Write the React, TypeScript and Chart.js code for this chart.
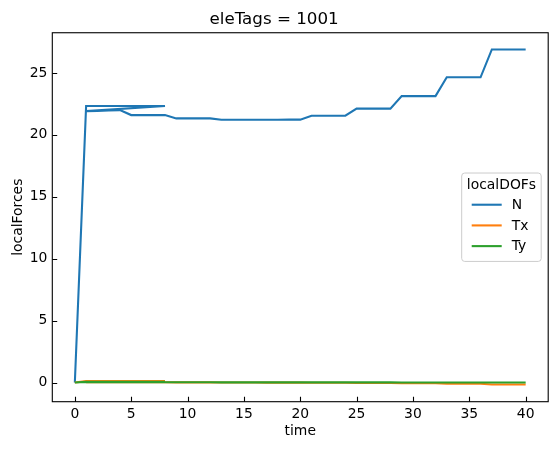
import React, { useEffect, useRef } from 'react';
import { Chart, registerables, Plugin } from 'chart.js';

Chart.register(...registerables);

// time column: first run 0..8, then restarts at 1 and goes to 40
const time = [
  0, 1, 2, 3, 4, 5, 6, 7, 8,
  1, 2, 3, 4, 5, 6, 7, 8, 9, 10,
  11, 12, 13, 14, 15, 16, 17, 18, 19, 20,
  21, 22, 23, 24, 25, 26, 27, 28, 29, 30,
  31, 32, 33, 34, 35, 36, 37, 38, 39, 40,
];

const nForce = [
  0, 22.33, 22.33, 22.33, 22.33, 22.33, 22.33, 22.33, 22.33,
  21.92, 21.94, 21.97, 22.0, 21.6, 21.6, 21.6, 21.6, 21.33, 21.33,
  21.33, 21.33, 21.22, 21.22, 21.22, 21.22, 21.22, 21.22, 21.23, 21.23,
  21.55, 21.55, 21.55, 21.55, 22.12, 22.12, 22.12, 22.12, 23.13, 23.13,
  23.13, 23.13, 24.65, 24.65, 24.65, 24.65, 26.9, 26.9, 26.9, 26.9,
];

const txForce = [
  0, 0.11, 0.11, 0.11, 0.11, 0.11, 0.11, 0.11, 0.11,
  0.03, 0.03, 0.03, 0.03, 0.02, 0.02, 0.02, 0.02, 0.01, 0.01,
  0.01, 0.01, 0.0, 0.0, 0.0, 0.0, -0.01, -0.01, -0.01, -0.01,
  -0.02, -0.02, -0.02, -0.02, -0.04, -0.04, -0.04, -0.04, -0.06, -0.06,
  -0.06, -0.06, -0.1, -0.1, -0.1, -0.1, -0.16, -0.16, -0.16, -0.16,
];

const tyForce = [
  0, 0.05, 0.05, 0.05, 0.05, 0.05, 0.05, 0.05, 0.05,
  0.03, 0.03, 0.03, 0.03, 0.02, 0.02, 0.02, 0.02, 0.02, 0.02,
  0.02, 0.02, 0.01, 0.01, 0.01, 0.01, 0.01, 0.01, 0.01, 0.01,
  0.01, 0.01, 0.01, 0.01, 0.01, 0.01, 0.01, 0.01, 0.0, 0.0,
  0.0, 0.0, 0.0, 0.0, 0.0, 0.0, 0.0, 0.0, 0.0, 0.0,
];

const seriesNames = ['N', 'Tx', 'Ty'];
const seriesColors = ['#1f77b4', '#ff7f0e', '#2ca02c'];
const xTicks = [0, 5, 10, 15, 20, 25, 30, 35, 40];
const yTicks = [0, 5, 10, 15, 20, 25];

const FONT = 'DejaVu Sans';

// matplotlib style: full black frame + inward ticks
const framePlugin: Plugin = {
  id: 'frame',
  afterDraw(chart) {
    const { ctx, chartArea: a, scales } = chart;
    const len = 4.9;
    ctx.save();
    ctx.strokeStyle = '#000';
    ctx.lineWidth = 1.1;
    ctx.beginPath();
    scales.x.ticks.forEach((t) => {
      const px = Math.round(scales.x.getPixelForValue(t.value)) + 0.5;
      ctx.moveTo(px, a.bottom);
      ctx.lineTo(px, a.bottom - len);
    });
    scales.y.ticks.forEach((t) => {
      const py = Math.round(scales.y.getPixelForValue(t.value)) + 0.5;
      ctx.moveTo(a.left, py);
      ctx.lineTo(a.left + len, py);
    });
    ctx.stroke();
    ctx.strokeRect(a.left, a.top, a.right - a.left, a.bottom - a.top);
    ctx.restore();
  },
};

// legend box inside the axes, centre right, with a title
const legendPlugin: Plugin = {
  id: 'innerLegend',
  afterDraw(chart) {
    const { ctx, chartArea: a } = chart;
    const w = 79.5;
    const h = 88.4;
    const x0 = a.right - 7 - w;
    const y0 = (a.top + a.bottom) / 2 - h / 2;
    ctx.save();
    ctx.fillStyle = 'rgba(255,255,255,0.8)';
    ctx.strokeStyle = '#cccccc';
    ctx.lineWidth = 1;
    ctx.beginPath();
    ctx.roundRect(x0, y0, w, h, 3);
    ctx.fill();
    ctx.stroke();

    ctx.font = `13.9px "${FONT}"`;
    ctx.fillStyle = '#000';
    ctx.textBaseline = 'middle';
    ctx.textAlign = 'center';
    ctx.fillText('localDOFs', x0 + w / 2, y0 + 12.6);

    ctx.textAlign = 'left';
    chart.data.datasets.forEach((ds, i) => {
      const yy = y0 + 31.7 + i * 20.7;
      ctx.strokeStyle = ds.borderColor as string;
      ctx.lineWidth = 2.1;
      ctx.beginPath();
      ctx.moveTo(x0 + 10, yy);
      ctx.lineTo(x0 + 40, yy);
      ctx.stroke();
      ctx.fillStyle = '#000';
      ctx.fillText(ds.label as string, x0 + 50, yy + 0.5);
    });
    ctx.restore();
  },
};

const App = () => {
  const canvasRef = useRef<HTMLCanvasElement | null>(null);

  useEffect(() => {
    if (!canvasRef.current) return;
    Chart.defaults.font.family = FONT;
    Chart.defaults.color = '#000';

    const values = [nForce, txForce, tyForce];
    const chart = new Chart(canvasRef.current, {
      type: 'line',
      data: {
        datasets: values.map((vals, i) => ({
          label: seriesNames[i],
          data: time.map((t, j) => ({ x: t, y: vals[j] })),
          borderColor: seriesColors[i],
          backgroundColor: seriesColors[i],
          borderWidth: 2.1,
          pointRadius: 0,
          tension: 0,
          order: 2 - i,
        })),
      },
      options: {
        animation: false,
        responsive: true,
        maintainAspectRatio: false,
        layout: { padding: { left: 0, right: 9.8, top: 0, bottom: 0 } },
        plugins: {
          legend: { display: false },
          tooltip: { enabled: false },
          title: {
            display: true,
            text: 'eleTags = 1001',
            font: { size: 16.7, weight: 'normal' },
            padding: { top: 9.2, bottom: 3.5 },
          },
        },
        scales: {
          x: {
            type: 'linear',
            min: -2,
            max: 42,
            grid: { display: false, drawTicks: false },
            border: { display: false },
            afterBuildTicks: (s) => {
              s.ticks = xTicks.map((v) => ({ value: v }));
            },
            afterFit: (s) => {
              s.height = 48.3;
            },
            ticks: { font: { size: 13.9 }, padding: 4, maxRotation: 0 },
            title: {
              display: true,
              text: 'time',
              font: { size: 13.9 },
              padding: { top: 0, bottom: 10.2 },
            },
          },
          y: {
            type: 'linear',
            min: -1.55,
            max: 28.25,
            grid: { display: false, drawTicks: false },
            border: { display: false },
            afterBuildTicks: (s) => {
              s.ticks = yTicks.map((v) => ({ value: v }));
            },
            afterFit: (s) => {
              s.width = 52.3;
            },
            ticks: { font: { size: 13.9 }, padding: 4.9 },
            title: {
              display: true,
              text: 'localForces',
              font: { size: 13.9 },
              padding: { top: 10.1, bottom: 0 },
            },
          },
        },
      },
      plugins: [framePlugin, legendPlugin],
    });

    return () => {
      chart.destroy();
    };
  }, []);

  return (
    <div style={{ position: 'absolute', left: 0, top: 0, width: 558, height: 450, background: '#fff' }}>
      <canvas ref={canvasRef}></canvas>
    </div>
  );
};

export default App;
